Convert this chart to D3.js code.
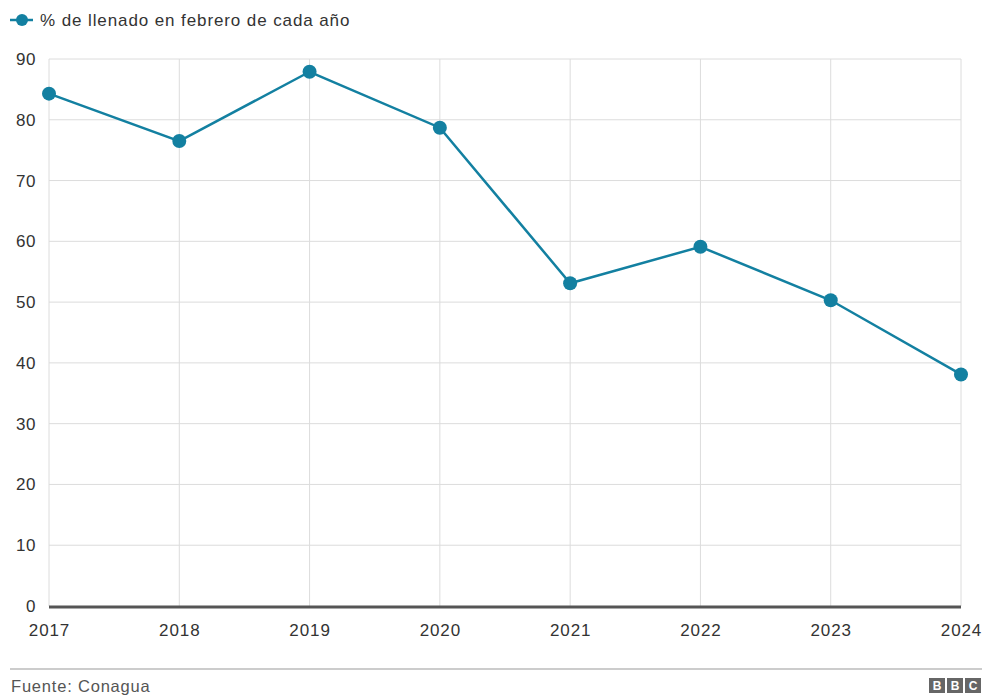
<!DOCTYPE html>
<html>
<head>
<meta charset="utf-8">
<script src="https://cdn.jsdelivr.net/npm/d3@7"></script>
<style>
  body { margin: 0; background: #fff; }
  svg { display: block; font-family: "Liberation Sans", Arial, sans-serif; }
</style>
</head>
<body>
<div id="chart"></div>
<script>
// données
const years = ['2017', '2018', '2019', '2020', '2021', '2022', '2023', '2024'];
const llenado = [84.3, 76.5, 87.9, 78.7, 53.1, 59.1, 50.3, 38.1];
const yTicks = [0, 10, 20, 30, 40, 50, 60, 70, 80, 90];
const seriesName = '% de llenado en febrero de cada año';

const width = 982, height = 696;
const color = '#1380a1';
const textColor = '#333';
const margin = { left: 49, right: 21, top: 59, bottom: 90 };

const svg = d3.select('#chart').append('svg')
  .attr('width', width)
  .attr('height', height);

const x = d3.scalePoint()
  .domain(years)
  .range([margin.left, width - margin.right]);

const y = d3.scaleLinear()
  .domain([0, 90])
  .range([height - margin.bottom, margin.top]);

// grille horizontale
svg.append('g')
  .selectAll('line')
  .data(yTicks.filter(d => d > 0))
  .join('line')
  .attr('x1', margin.left)
  .attr('x2', width - margin.right)
  .attr('y1', d => y(d))
  .attr('y2', d => y(d))
  .attr('stroke', '#dcdcdc')
  .attr('stroke-width', 1);

// grille verticale
svg.append('g')
  .selectAll('line')
  .data(years)
  .join('line')
  .attr('x1', d => x(d))
  .attr('x2', d => x(d))
  .attr('y1', y(90))
  .attr('y2', y(0))
  .attr('stroke', '#dcdcdc')
  .attr('stroke-width', 1);

// axe y (étiquettes seulement)
const yAxis = svg.append('g')
  .attr('transform', `translate(${margin.left},0)`)
  .call(d3.axisLeft(y).tickValues(yTicks).tickSize(0).tickPadding(13));
yAxis.select('.domain').remove();
yAxis.selectAll('text')
  .attr('font-size', '17px')
  .attr('letter-spacing', '0.6px')
  .attr('fill', textColor)
  .attr('font-family', '"Liberation Sans", Arial, sans-serif');

// axe x
const xAxis = svg.append('g')
  .attr('transform', `translate(0,${y(0)})`)
  .call(d3.axisBottom(x).tickSize(0).tickPadding(18));
xAxis.select('.domain').remove();
xAxis.selectAll('text')
  .attr('font-size', '17px')
  .attr('letter-spacing', '0.9px')
  .attr('fill', textColor)
  .attr('font-family', '"Liberation Sans", Arial, sans-serif');

// ligne de base
svg.append('line')
  .attr('x1', margin.left)
  .attr('x2', width - margin.right)
  .attr('y1', y(0) + 1)
  .attr('y2', y(0) + 1)
  .attr('stroke', '#555')
  .attr('stroke-width', 3);

// série
const points = years.map((d, i) => ({ year: d, value: llenado[i] }));

svg.append('path')
  .datum(points)
  .attr('fill', 'none')
  .attr('stroke', color)
  .attr('stroke-width', 2.5)
  .attr('d', d3.line().x(d => x(d.year)).y(d => y(d.value)));

svg.append('g')
  .selectAll('circle')
  .data(points)
  .join('circle')
  .attr('cx', d => x(d.year))
  .attr('cy', d => y(d.value))
  .attr('r', 7)
  .attr('fill', color);

// légende
const legend = svg.append('g').attr('transform', 'translate(10,20)');
legend.append('line')
  .attr('x1', 0).attr('x2', 23)
  .attr('stroke', color).attr('stroke-width', 2.5);
legend.append('circle')
  .attr('cx', 12).attr('r', 6)
  .attr('fill', color);
legend.append('text')
  .attr('x', 30).attr('y', 6)
  .attr('font-size', '17px')
  .attr('letter-spacing', '0.9px')
  .attr('fill', textColor)
  .text(seriesName);

// pied de page
svg.append('line')
  .attr('x1', 10).attr('x2', width)
  .attr('y1', 669).attr('y2', 669)
  .attr('stroke', '#bbb').attr('stroke-width', 1.5);

svg.append('text')
  .attr('x', 11).attr('y', 692)
  .attr('font-size', '16.5px')
  .attr('letter-spacing', '0.8px')
  .attr('fill', '#555')
  .text('Fuente: Conagua');

// logo BBC
const logo = svg.append('g').attr('transform', 'translate(929,678)');
['B', 'B', 'C'].forEach((l, i) => {
  logo.append('rect')
    .attr('x', i * 18).attr('y', 0)
    .attr('width', 16).attr('height', 15)
    .attr('fill', '#666');
  logo.append('text')
    .attr('x', i * 18 + 8).attr('y', 12)
    .attr('text-anchor', 'middle')
    .attr('font-size', '12px')
    .attr('font-weight', 'bold')
    .attr('fill', '#fff')
    .text(l);
});
</script>
</body>
</html>
